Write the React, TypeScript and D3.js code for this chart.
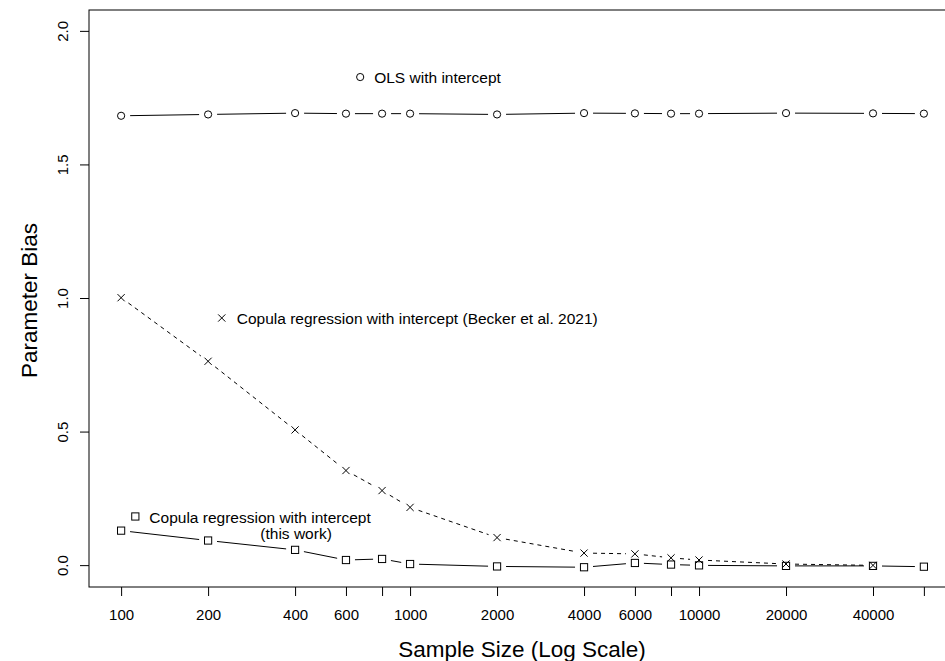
import React, { useRef, useEffect } from 'react';
import * as d3 from 'd3';

// sample sizes (x) and mean parameter bias per method
const sampleSizes = [100, 200, 400, 600, 800, 1000, 2000, 4000, 6000, 8000, 10000, 20000, 40000, 60000];
const olsBias = [1.684, 1.689, 1.694, 1.692, 1.692, 1.692, 1.689, 1.694, 1.693, 1.692, 1.692, 1.694, 1.693, 1.692];
const beckerSizes = [100, 200, 400, 600, 800, 1000, 2000, 4000, 6000, 8000, 10000, 20000, 40000];
const beckerBias = [1.003, 0.765, 0.508, 0.356, 0.281, 0.218, 0.105, 0.047, 0.044, 0.029, 0.021, 0.006, 0.001];
const thisWorkBias = [0.131, 0.094, 0.059, 0.021, 0.025, 0.006, -0.003, -0.006, 0.010, 0.004, 0.001, -0.001, -0.001, -0.004];

const xTicks = [100, 200, 400, 600, 800, 1000, 2000, 4000, 6000, 8000, 10000, 20000, 40000, 60000];
const xTickLabels = ['100', '200', '400', '600', '', '1000', '2000', '4000', '6000', '', '10000', '20000', '40000', ''];
const yTicks = [0, 0.5, 1, 1.5, 2];

const FONT = '"Liberation Sans", Arial, Helvetica, sans-serif';

const App = () => {
  const svgRef = useRef<SVGSVGElement>(null);

  useEffect(() => {
    const W = 945, H = 661;
    const left = 89, right = 956, top = 10, bottom = 587;
    const svg = d3.select(svgRef.current)
      .attr('width', W)
      .attr('height', H)
      .style('background', '#fff')
      .style('font-family', FONT);
    svg.selectAll('*').remove();

    const lx0 = Math.log10(100), lx1 = Math.log10(60000);
    const ext = (lx1 - lx0) * 0.04;
    const x = d3.scaleLog().domain([Math.pow(10, lx0 - ext), Math.pow(10, lx1 + ext)]).range([left, right]);
    const y = d3.scaleLinear().domain([-0.08, 2.08]).range([bottom, top]);

    // plot box
    svg.append('rect')
      .attr('x', left).attr('y', top)
      .attr('width', right - left).attr('height', bottom - top)
      .attr('fill', 'none').attr('stroke', '#000').attr('stroke-width', 1);

    // x axis
    const xAxis = d3.axisBottom(x)
      .tickValues(xTicks)
      .tickSize(9)
      .tickPadding(13)
      .tickFormat((d, i) => xTickLabels[i]);
    const gx = svg.append('g').attr('transform', `translate(0,${bottom})`).call(xAxis);
    gx.select('.domain').remove();
    gx.selectAll('text').attr('font-size', 15).attr('font-family', FONT).attr('fill', '#000');

    // y axis
    const yAxis = d3.axisLeft(y).tickValues(yTicks).tickSize(9).tickFormat(d3.format('.1f'));
    const gy = svg.append('g').attr('transform', `translate(${left},0)`).call(yAxis);
    gy.select('.domain').remove();
    gy.selectAll('text')
      .attr('font-size', 15).attr('font-family', FONT).attr('fill', '#000')
      .attr('text-anchor', 'middle')
      .attr('x', null).attr('dy', null)
      .attr('transform', (d: any) => `translate(${68 - left},${y(d)}) rotate(-90)`)
      .attr('y', 0);
    gy.selectAll('.tick').attr('transform', 'translate(0,0)');
    gy.selectAll('.tick line').attr('transform', (d: any) => `translate(0,${y(d)})`);

    // axis titles
    svg.append('text')
      .attr('x', 522).attr('y', 657)
      .attr('text-anchor', 'middle').attr('font-size', 22.5)
      .text('Sample Size (Log Scale)');
    svg.append('text')
      .attr('transform', `translate(37,${(top + bottom) / 2 + 2}) rotate(-90)`)
      .attr('text-anchor', 'middle').attr('font-size', 22.5)
      .text('Parameter Bias');

    // type="b" lines: segments with gaps around points
    const gap = 9;
    const drawSeries = (xs: number[], ys: number[], dash: string | null) => {
      const pts = xs.map((v, i) => [x(v), y(ys[i])]);
      const segs: number[][] = [];
      for (let i = 0; i < pts.length - 1; i++) {
        const [x0, y0] = pts[i], [x1, y1] = pts[i + 1];
        const len = Math.hypot(x1 - x0, y1 - y0);
        if (len <= 2 * gap) continue;
        const ux = (x1 - x0) / len, uy = (y1 - y0) / len;
        segs.push([x0 + ux * gap, y0 + uy * gap, x1 - ux * gap, y1 - uy * gap]);
      }
      svg.append('g').selectAll('line').data(segs).join('line')
        .attr('x1', d => d[0]).attr('y1', d => d[1])
        .attr('x2', d => d[2]).attr('y2', d => d[3])
        .attr('stroke', '#000').attr('stroke-width', 1)
        .attr('stroke-dasharray', dash);
      return pts;
    };

    const circle = (g: any, cx: number, cy: number) =>
      g.append('circle').attr('cx', cx).attr('cy', cy).attr('r', 3.6)
        .attr('fill', 'none').attr('stroke', '#000').attr('stroke-width', 1);
    const cross = (g: any, cx: number, cy: number) => {
      const s = 3.6;
      g.append('path')
        .attr('d', `M${cx - s},${cy - s}L${cx + s},${cy + s}M${cx - s},${cy + s}L${cx + s},${cy - s}`)
        .attr('stroke', '#000').attr('stroke-width', 1).attr('fill', 'none');
    };
    const square = (g: any, cx: number, cy: number) => {
      const s = 3.6;
      g.append('rect').attr('x', cx - s).attr('y', cy - s).attr('width', 2 * s).attr('height', 2 * s)
        .attr('fill', 'none').attr('stroke', '#000').attr('stroke-width', 1);
    };

    const gPts = svg.append('g');
    drawSeries(sampleSizes, olsBias, null).forEach(([a, b]) => circle(gPts, a, b));
    drawSeries(beckerSizes, beckerBias, '4,4').forEach(([a, b]) => cross(gPts, a, b));
    drawSeries(sampleSizes, thisWorkBias, null).forEach(([a, b]) => square(gPts, a, b));

    // in-plot labels
    const lbl = svg.append('g').attr('font-size', 15.5).attr('fill', '#000');
    const olsL = [x(672), y(1.829)];
    circle(lbl, olsL[0], olsL[1]);
    lbl.append('text').attr('x', olsL[0] + 14).attr('y', olsL[1] + 5.5).text('OLS with intercept');

    const beckL = [x(223), y(0.927)];
    cross(lbl, beckL[0], beckL[1]);
    lbl.append('text').attr('x', beckL[0] + 15).attr('y', beckL[1] + 5.5)
      .text('Copula regression with intercept (Becker et al. 2021)');

    const thisL = [x(112), y(0.184)];
    square(lbl, thisL[0], thisL[1]);
    lbl.append('text').attr('x', thisL[0] + 14).attr('y', thisL[1] + 7)
      .text('Copula regression with intercept');
    lbl.append('text').attr('x', thisL[0] + 125).attr('y', thisL[1] + 23)
      .text('(this work)');
  }, []);

  return (
    <div>
      <svg ref={svgRef} style={{ position: 'absolute', left: 0, top: 0 }}></svg>
    </div>
  );
};

export default App;
